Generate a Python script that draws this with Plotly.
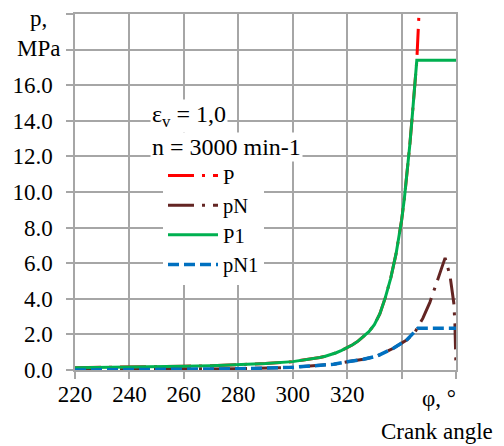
import plotly.graph_objects as go

# Crank angle (deg) and cylinder pressure (MPa)
angle_p1 = [220, 230, 240, 250, 260, 270, 280, 290, 300, 305, 310, 312, 314, 316, 318, 320,
            322, 324, 326, 328, 330, 332, 334, 336, 338, 340, 341, 342, 343, 344, 345,
            345.6, 360]
p1 = [0.13, 0.14, 0.16, 0.18, 0.21, 0.24, 0.29, 0.36, 0.47, 0.57, 0.70, 0.77, 0.86, 0.97, 1.10, 1.25,
      1.42, 1.62, 1.86, 2.15, 2.55, 3.15, 4.05, 5.15, 6.55, 8.40, 9.60, 11.0, 12.6, 14.4, 16.4,
      17.4, 17.4]

angle_p = [220, 230, 240, 250, 260, 270, 280, 290, 300, 305, 310, 312, 314, 316, 318, 320,
           322, 324, 326, 328, 330, 332, 334, 336, 338, 340, 341, 342, 343, 344, 345,
           345.6, 346.7]
p = [0.13, 0.14, 0.16, 0.18, 0.21, 0.24, 0.29, 0.36, 0.47, 0.57, 0.70, 0.77, 0.86, 0.97, 1.10, 1.25,
     1.42, 1.62, 1.86, 2.15, 2.55, 3.15, 4.05, 5.15, 6.55, 8.40, 9.60, 11.0, 12.6, 14.4, 16.4,
     17.4, 21.0]

angle_pn1 = [220, 240, 260, 280, 300, 310, 315, 320, 326, 331, 337, 342, 345, 346, 360]
pn1 = [0.0, 0.02, 0.04, 0.07, 0.15, 0.24, 0.32, 0.46, 0.60, 0.78, 1.22, 1.70, 2.15, 2.35, 2.35]

angle_pn = [220, 240, 260, 280, 300, 310, 315, 320, 326, 331, 337, 342, 345,
            347.8, 350.4, 354, 356, 357.8, 359.2, 359.6, 360]
pn = [0.0, 0.02, 0.04, 0.07, 0.15, 0.24, 0.32, 0.46, 0.60, 0.78, 1.22, 1.70, 2.15,
      2.9, 3.8, 5.4, 6.3, 5.3, 3.75, 2.6, 0.1]

# Labelled ticks, plus unlabelled tick/grid positions at the ends of each axis
x_ticks = [220, 240, 260, 280, 300, 320]
x_labels = ["220", "240", "260", "280", "300", "320"]
x_extra = [340, 360]
y_ticks = [0, 2, 4, 6, 8, 10, 12, 14, 16]
y_labels = ["0.0", "2.0", "4.0", "6.0", "8.0", "10.0", "12.0", "14.0", "16.0"]
y_extra = [18, 20]

FONT = "Times New Roman, Liberation Serif, serif"
GRID = "#A6A6A6"
FS = 23

fig = go.Figure()
fig.add_trace(go.Scatter(x=angle_p, y=p, name="P", mode="lines",
                         line=dict(color="#FF0000", width=3, dash="26px,8px,3px,8px")))
fig.add_trace(go.Scatter(x=angle_pn, y=pn, name="pN", mode="lines",
                         line=dict(color="#632523", width=3, dash="26px,8px,3px,8px")))
fig.add_trace(go.Scatter(x=angle_p1, y=p1, name="P1", mode="lines",
                         line=dict(color="#00B050", width=3)))
fig.add_trace(go.Scatter(x=angle_pn1, y=pn1, name="pN1", mode="lines",
                         line=dict(color="#0070C0", width=3.5, dash="11px,5px")))

axis_common = dict(
    showgrid=True, gridcolor=GRID, gridwidth=1.5,
    showline=True, linecolor=GRID, linewidth=1.5, mirror=True,
    ticks="outside", ticklen=7, tickcolor=GRID, tickwidth=1.5,
    zeroline=False,
    tickfont=dict(family=FONT, size=FS, color="black"),
)


def extra_ticks(vals):
    return dict(tickmode="array", tickvals=vals, ticks="outside", ticklen=7,
                tickcolor=GRID, tickwidth=1.5, showgrid=True, gridcolor=GRID, gridwidth=1.5)


fig.update_xaxes(range=[220, 360], tickmode="array", tickvals=x_ticks, ticktext=x_labels,
                 ticklabelstandoff=-4, minor=extra_ticks(x_extra), **axis_common)
fig.update_yaxes(range=[0, 20], tickmode="array", tickvals=y_ticks, ticktext=y_labels,
                 ticklabelstandoff=9, minor=extra_ticks(y_extra), **axis_common)

fig.update_layout(
    width=504, height=446,
    margin=dict(l=74, r=48, t=12, b=76),
    paper_bgcolor="white", plot_bgcolor="white",
    font=dict(family=FONT, size=FS, color="black"),
    showlegend=True,
    legend=dict(x=0.231, y=0.602, xanchor="left", yanchor="top",
                bgcolor="white", borderwidth=0,
                font=dict(family=FONT, size=20.5, color="black"),
                itemwidth=50, tracegroupgap=0),
    annotations=[
        dict(text="p,<br>MPa", xref="paper", yref="paper", x=-0.095, y=1.0,
             xanchor="center", yanchor="top", showarrow=False, align="center",
             font=dict(family=FONT, size=FS), yshift=10),
        dict(text="ε<sub>v</sub> = 1,0", xref="paper", yref="paper",
             x=0.196, y=0.713, xanchor="left", yanchor="middle", showarrow=False,
             bgcolor="white", font=dict(family=FONT, size=24)),
        dict(text="n = 3000 min-1", xref="paper", yref="paper",
             x=0.196, y=0.626, xanchor="left", yanchor="middle", showarrow=False,
             bgcolor="white", font=dict(family=FONT, size=24)),
        dict(text="φ, °", xref="paper", yref="paper", x=0.955, y=0, yshift=-28,
             xanchor="center", yanchor="middle", showarrow=False,
             font=dict(family=FONT, size=FS)),
        dict(text="Crank angle", xref="paper", yref="paper", x=0.95, y=0, yshift=-61,
             xanchor="center", yanchor="middle", showarrow=False,
             font=dict(family=FONT, size=FS)),
    ],
)

fig.write_html("out.html")
